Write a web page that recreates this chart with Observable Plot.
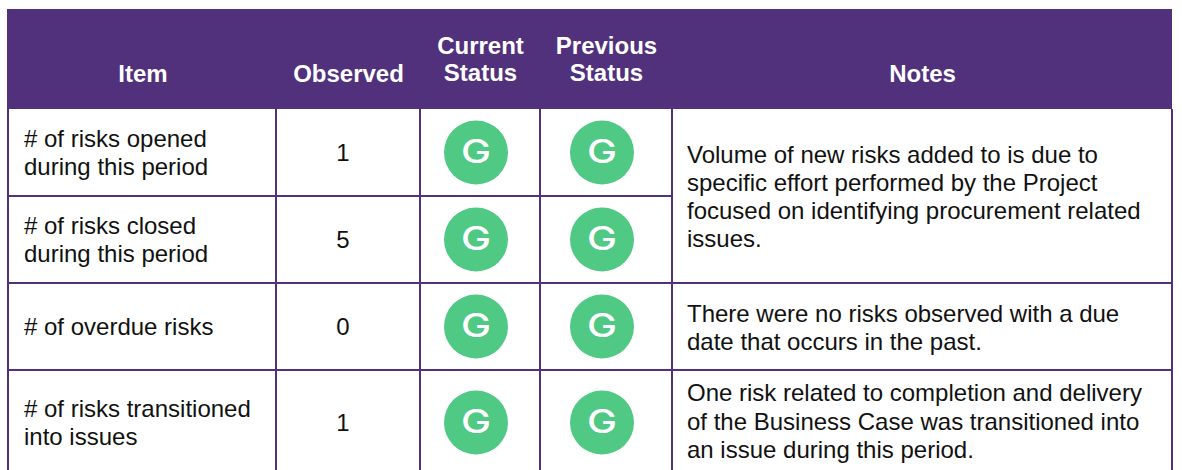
<!DOCTYPE html>
<html>
<head>
<meta charset="utf-8">
<script src="https://cdn.jsdelivr.net/npm/d3@7"></script>
<script src="https://cdn.jsdelivr.net/npm/@observablehq/plot@0.6"></script>
<style>html,body{margin:0;padding:0;background:#fff}svg{display:block}</style>
</head>
<body>
<div id="chart"></div>
<script>
const headers = ["Item", "Observed", "Current\nStatus", "Previous\nStatus", "Notes"];
const items = ["# of risks opened\nduring this period", "# of risks closed\nduring this period", "# of overdue risks", "# of risks transitioned\ninto issues"];
const observed = ["1", "5", "0", "1"];
const currentStatus = ["G", "G", "G", "G"];
const previousStatus = ["G", "G", "G", "G"];
const notes = [
  "Volume of new risks added to is due to\nspecific effort performed by the Project\nfocused on identifying procurement related\nissues.",
  "There were no risks observed with a due\ndate that occurs in the past.",
  "One risk related to completion and delivery\nof the Business Case was transitioned into\nan issue during this period."
];

// Table layout (separate from the data)
const W = 1182, H = 470;
const purple = "#51307c", green = "#50c985";
const font = "Liberation Sans, Arial, sans-serif";
const headerBox = {x1: 7, x2: 1172, y1: 9, y2: 109};
const colEdges = [7.5, 275.5, 419.5, 539.5, 671.5, 1171.5];
const rowEdges = [109, 195.5, 282.5, 369.5, 470];
const headerX = [142.5, 348, 480, 606, 922];
const headerY = [72.5, 72.5, 58.5, 58.5, 72.5];
const colCenter = {observed: 342.5, current: 475.5, previous: 601.5};
const itemX = 23.5, noteX = 686.5;
const rowY = [152, 239, 326, 422];
const textRowY = [151.5, 238.5, 325.5, 421.5];
const noteY = [195.5, 326.5, 420];

const rows = items.map((item, i) => ({item, observed: observed[i], current: currentStatus[i], previous: previousStatus[i], i}));
const headerRows = headers.map((h, i) => ({h, x: headerX[i], y: headerY[i]}));
const noteRows = notes.map((n, i) => ({n, y: noteY[i]}));

// horizontal rules: the row line between rows 1 and 2 stops at the merged Notes cell
const hRules = [
  {x1: colEdges[0], x2: colEdges[4], y: rowEdges[1]},
  {x1: colEdges[0], x2: colEdges[5], y: rowEdges[2]},
  {x1: colEdges[0], x2: colEdges[5], y: rowEdges[3]}
];
const text = {fontFamily: font, fontSize: 24, lineHeight: 1.17, fill: "#111"};
const badge = {fill: "#fff", fontFamily: "Inter", fontSize: 32, fontWeight: 500, className: "status-g"};

const chart = Plot.plot({
  width: W, height: H,
  marginTop: 0, marginRight: 0, marginBottom: 0, marginLeft: 0,
  style: {background: "#fff"},
  x: {type: "linear", domain: [0, W], range: [0, W], axis: null},
  y: {type: "linear", domain: [0, H], range: [0, H], axis: null},
  marks: [
    Plot.rect([headerBox], {x1: "x1", x2: "x2", y1: "y1", y2: "y2", fill: purple}),
    Plot.ruleX(colEdges, {y1: headerBox.y2, y2: H, stroke: purple, strokeWidth: 2}),
    Plot.ruleY(hRules, {x1: "x1", x2: "x2", y: "y", stroke: purple, strokeWidth: 2}),
    Plot.text(headerRows, {x: "x", y: "y", text: "h", fill: "#fff", fontFamily: font, fontSize: 24, fontWeight: "bold", lineHeight: 1.12}),
    Plot.text(rows, {x: itemX, y: (d, i) => textRowY[i], text: "item", textAnchor: "start", ...text}),
    Plot.text(rows, {x: colCenter.observed, y: (d, i) => textRowY[i], text: "observed", ...text}),
    Plot.dot(rows, {x: colCenter.current, y: (d, i) => rowY[i], r: 32, fill: green}),
    Plot.dot(rows, {x: colCenter.previous, y: (d, i) => rowY[i], r: 32, fill: green}),
    Plot.text(rows, {x: colCenter.current, y: (d, i) => rowY[i], text: "current", ...badge}),
    Plot.text(rows, {x: colCenter.previous, y: (d, i) => rowY[i], text: "previous", ...badge}),
    Plot.text(noteRows, {x: noteX, y: "y", text: "n", textAnchor: "start", ...text})
  ]
});
// the badge letter in the reference is a wide geometric G
chart.querySelectorAll(".status-g text").forEach(t => {
  t.setAttribute("textLength", 30);
  t.setAttribute("lengthAdjust", "spacingAndGlyphs");
});
document.getElementById("chart").appendChild(chart);
</script>
</body>
</html>
